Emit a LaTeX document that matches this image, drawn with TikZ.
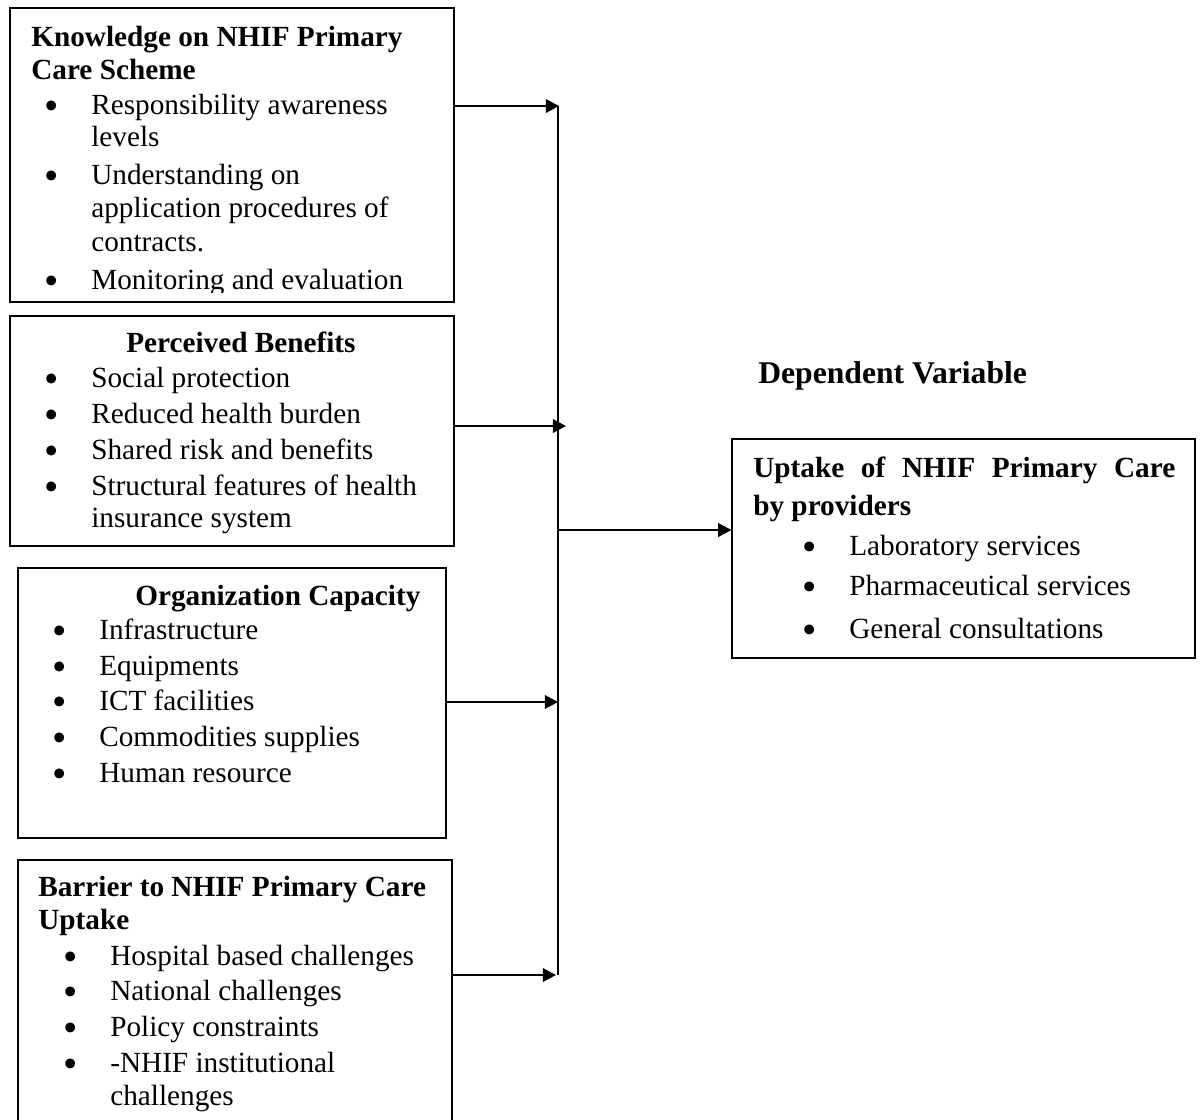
\documentclass[tikz,border=0pt]{standalone}
\usepackage{fontspec}
\setmainfont{Liberation Serif}
\usepackage{graphicx}
\usetikzlibrary{arrows.meta,fit,positioning}

\newlength\pxu
\setlength\pxu{0.025cm}
% bullet plus the gap up to the item text
\newcommand\bl{\makebox[47\pxu][l]{\raisebox{-0.18em}{\scalebox{1.4}{\textbullet}}}}

\tikzset{
  box/.style={draw, line width=0.8pt, inner sep=0pt},
  txt/.style={anchor=base west, inner sep=0pt, font=\fontsize{20.8}{23.5}\selectfont},
  ttl/.style={txt, font=\fontsize{20.8}{23.5}\selectfont\bfseries},
  link/.style={line width=1.3pt},
  arr/.style={link, -{Triangle[length=0.33cm,width=0.34cm]}}
}

\begin{document}
\begin{tikzpicture}[x=0.025cm, y=-0.025cm]

    \clip (0,0) rectangle (1200,1119);

    % boxes
    \node[box, fit={(10,8) (454,302)}] (know) {};
    \node[box, fit={(10,316) (454,546)}] (ben) {};
    \node[box, fit={(18,568) (446,838)}] (cap) {};
    \node[box, fit={(18,860) (452,1140)}] (bar) {};
    \node[box, fit={(732,439) (1195,658)}] (dv) {};

    % knowledge
    \begin{scope}
        \clip (10,8) rectangle (454,292);
        \node[ttl] (k1) at (31,46) {Knowledge on NHIF Primary};
        \node[ttl] (k2) at (31,79) {Care Scheme};
        \node[txt] (k3) at (44,114) {\bl Responsibility awareness};
        \node[txt] (k4) at (91,146) {levels};
        \node[txt] (k5) at (44,184) {\bl Understanding on};
        \node[txt] (k6) at (91,217) {application procedures of};
        \node[txt] (k7) at (91,251) {contracts.};
        \node[txt] (k8) at (44,289) {\bl Monitoring and evaluation};
    \end{scope}

    % benefits
    \node[ttl] (b1) at (126,352) {Perceived Benefits};
    \node[txt] (b2) at (44,387) {\bl Social protection};
    \node[txt] (b3) at (44,423) {\bl Reduced health burden};
    \node[txt] (b4) at (44,459) {\bl Shared risk and benefits};
    \node[txt] (b5) at (44,495) {\bl Structural features of health};
    \node[txt] (b6) at (91,527) {insurance system};

    % capacity
    \node[ttl] (c1) at (135,605) {Organization Capacity};
    \node[txt] (c2) at (52,639) {\bl Infrastructure};
    \node[txt] (c3) at (52,675) {\bl Equipments};
    \node[txt] (c4) at (52,710) {\bl ICT facilities};
    \node[txt] (c5) at (52,746) {\bl Commodities supplies};
    \node[txt] (c6) at (52,782) {\bl Human resource};

    % barriers
    \node[ttl] (r1) at (38,896) {Barrier to NHIF Primary Care};
    \node[ttl] (r2) at (38,929) {Uptake};
    \node[txt] (r3) at (63,965) {\bl Hospital based challenges};
    \node[txt] (r4) at (63,1000) {\bl National challenges};
    \node[txt] (r5) at (63,1036) {\bl Policy constraints};
    \node[txt] (r6) at (63,1072) {\bl -NHIF institutional};
    \node[txt] (r7) at (110,1105) {challenges};

    % dependent variable
    \node[ttl, font=\fontsize{22.5}{26}\selectfont\bfseries] (dvt) at (758,383) {Dependent Variable};
    \node[ttl] (d1) at (753,477) {\makebox[422\pxu][s]{Uptake of NHIF Primary Care}};
    \node[ttl] (d2) at (753,515) {by providers};
    \node[txt] (d3) at (802,555) {\bl Laboratory services};
    \node[txt] (d4) at (802,595) {\bl Pharmaceutical services};
    \node[txt] (d5) at (802,638) {\bl General consultations};

    % connectors
    \coordinate (top) at (558,106);
    \coordinate (bot) at (558,975);
    \coordinate (in1) at (559,106);
    \coordinate (in2) at (566,426);
    \coordinate (in3) at (558,702);
    \coordinate (in4) at (556,975);
    \coordinate (out) at (558,530);

    \draw[link] (top) -- (bot);
    \draw[arr] (know.east |- in1) -- (in1);
    \draw[arr] (ben.east |- in2) -- (in2);
    \draw[arr] (cap.east |- in3) -- (in3);
    \draw[arr] (bar.east |- in4) -- (in4);
    \draw[arr] (out) -- (dv.west |- out);

\end{tikzpicture}
\end{document}
